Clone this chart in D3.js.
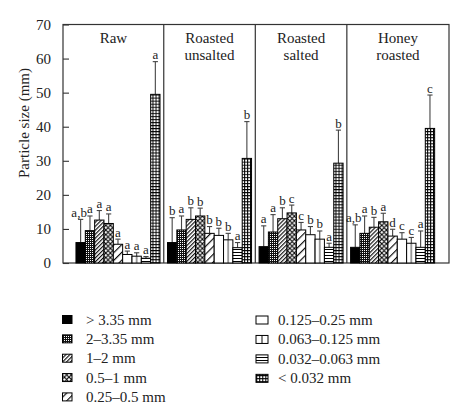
<!DOCTYPE html>
<html>
<head>
<meta charset="utf-8">
<script src="https://cdn.jsdelivr.net/npm/d3@7/dist/d3.min.js"></script>
<style>
  html, body { margin: 0; padding: 0; background: #fff; }
  svg { display: block; }
  text { font-family: "Liberation Serif", "DejaVu Serif", serif; fill: #222; }
</style>
</head>
<body>
<svg id="chart" width="470" height="417"></svg>
<script>
// ---------- data ----------
const groups = ["Raw", "Roasted unsalted", "Roasted salted", "Honey roasted"];
const sizeClasses = ["> 3.35 mm", "2\u20133.35 mm", "1\u20132 mm", "0.5\u20131 mm", "0.25\u20130.5 mm",
                     "0.125\u20130.25 mm", "0.063\u20130.125 mm", "0.032\u20130.063 mm", "< 0.032 mm"];
const yTicks = [0, 10, 20, 30, 40, 50, 60, 70];

const rawMean       = [6.0, 9.5, 12.6, 11.6, 5.5, 2.5, 2.0, 1.4, 49.5];
const rawSD         = [6.8, 4.3, 2.8, 2.8, 1.5, 1.0, 1.0, 0.5, 9.6];
const rawLetters    = ["a,b", "a", "a", "a", "a", "a", "a", "a", "a"];

const unsaltedMean    = [6.0, 9.7, 12.8, 13.8, 8.7, 8.1, 6.8, 4.5, 30.7];
const unsaltedSD      = [7.3, 4.1, 3.4, 2.3, 2.0, 2.1, 1.9, 1.5, 10.8];
const unsaltedLetters = ["b", "a", "b", "b", "b", "b", "b", "a", "b"];

const saltedMean    = [4.8, 9.1, 13.0, 14.7, 9.7, 8.3, 7.0, 4.6, 29.3];
const saltedSD      = [6.1, 5.1, 3.2, 2.3, 2.2, 2.4, 2.4, 1.2, 9.7];
const saltedLetters = ["a", "a", "b", "c", "c", "b", "b", "a", "b"];

const honeyMean    = [4.6, 8.7, 10.5, 12.1, 7.9, 7.0, 5.8, 4.6, 39.5];
const honeySD      = [6.6, 5.1, 2.9, 2.5, 2.0, 1.9, 1.7, 4.8, 9.8];
const honeyLetters = ["a,b", "a", "b", "a", "d", "c", "c", "a", "c"];

const means   = [rawMean, unsaltedMean, saltedMean, honeyMean];
const sds     = [rawSD, unsaltedSD, saltedSD, honeySD];
const letters = [rawLetters, unsaltedLetters, saltedLetters, honeyLetters];

// ---------- layout ----------
const frame = { left: 63, right: 449, top: 24.5, bottom: 263 };
const svg = d3.select("#chart");
const lineColor = "#333";

const y = d3.scaleLinear().domain([0, 70]).range([frame.bottom, frame.top]);
const x0 = d3.scaleBand().domain(groups).range([72.3, 438.3]).paddingInner(0.082).paddingOuter(0.04);
const x1 = d3.scaleBand().domain(sizeClasses).range([0, x0.bandwidth()]).padding(0);

// ---------- patterns ----------
const defs = svg.append("defs");
const pid = i => "pat" + i;

// 0 solid black
defs.append("pattern").attr("id", pid(0)).attr("patternUnits", "userSpaceOnUse")
  .attr("width", 4).attr("height", 4)
  .append("rect").attr("width", 4).attr("height", 4).attr("fill", "#000");
// 1 dense checker
{
  const p = defs.append("pattern").attr("id", pid(1)).attr("patternUnits", "userSpaceOnUse")
    .attr("width", 2).attr("height", 2);
  p.append("rect").attr("width", 2).attr("height", 2).attr("fill", "#111");
  p.append("rect").attr("width", 1).attr("height", 1).attr("fill", "#fff");
}
// 2 dense diagonal hatch
{
  const p = defs.append("pattern").attr("id", pid(2)).attr("patternUnits", "userSpaceOnUse")
    .attr("width", 2.8).attr("height", 2.8).attr("patternTransform", "rotate(45)");
  p.append("rect").attr("width", 2.8).attr("height", 2.8).attr("fill", "#fff");
  p.append("line").attr("x1", 0.6).attr("y1", 0).attr("x2", 0.6).attr("y2", 2.8)
    .attr("stroke", "#000").attr("stroke-width", 1.1);
}
// 3 diagonal crosshatch
{
  const s = 4.6;
  const p = defs.append("pattern").attr("id", pid(3)).attr("patternUnits", "userSpaceOnUse")
    .attr("width", s).attr("height", s);
  p.append("rect").attr("width", s).attr("height", s).attr("fill", "#fff");
  p.append("path").attr("d", `M0,0L${s},${s}M${s},0L0,${s}`)
    .attr("stroke", "#000").attr("stroke-width", 1.1);
}
// 4 wide diagonal
{
  const p = defs.append("pattern").attr("id", pid(4)).attr("patternUnits", "userSpaceOnUse")
    .attr("width", 5.5).attr("height", 5.5).attr("patternTransform", "rotate(45)");
  p.append("rect").attr("width", 5.5).attr("height", 5.5).attr("fill", "#fff");
  p.append("line").attr("x1", 0.6).attr("y1", 0).attr("x2", 0.6).attr("y2", 5.5)
    .attr("stroke", "#000").attr("stroke-width", 1.1);
}
// 5 white
defs.append("pattern").attr("id", pid(5)).attr("patternUnits", "userSpaceOnUse")
  .attr("width", 4).attr("height", 4)
  .append("rect").attr("width", 4).attr("height", 4).attr("fill", "#fff");
// 6 vertical middle line
{
  const p = defs.append("pattern").attr("id", pid(6)).attr("patternUnits", "objectBoundingBox")
    .attr("patternContentUnits", "objectBoundingBox").attr("width", 1).attr("height", 1);
  p.append("rect").attr("width", 1).attr("height", 1).attr("fill", "#fff");
  p.append("rect").attr("x", 0.46).attr("width", 0.08).attr("height", 1).attr("fill", "#000");
}
// 7 horizontal lines
{
  const p = defs.append("pattern").attr("id", pid(7)).attr("patternUnits", "userSpaceOnUse")
    .attr("width", 4).attr("height", 3);
  p.append("rect").attr("width", 4).attr("height", 3).attr("fill", "#fff");
  p.append("rect").attr("y", 0).attr("width", 4).attr("height", 1).attr("fill", "#000");
}
// 8 grid
{
  const p = defs.append("pattern").attr("id", pid(8)).attr("patternUnits", "userSpaceOnUse")
    .attr("width", 3.05).attr("height", 3.05);
  p.append("rect").attr("width", 3.05).attr("height", 3.05).attr("fill", "#fff");
  p.append("rect").attr("width", 3.05).attr("height", 1).attr("fill", "#000");
  p.append("rect").attr("width", 1).attr("height", 3.05).attr("fill", "#000");
}

// ---------- frame & axis ----------
svg.append("rect")
  .attr("x", frame.left).attr("y", frame.top)
  .attr("width", frame.right - frame.left).attr("height", frame.bottom - frame.top)
  .attr("fill", "none").attr("stroke", lineColor).attr("stroke-width", 1.2);

const yAxis = svg.append("g").attr("transform", `translate(${frame.left},0)`)
  .call(d3.axisLeft(y).tickValues(yTicks).tickSize(-6).tickPadding(12).tickFormat(d3.format("d")));
yAxis.select(".domain").remove();
yAxis.selectAll(".tick line").attr("stroke", lineColor).attr("stroke-width", 1.1);
yAxis.selectAll(".tick text").style("font-family", '"Liberation Serif", serif')
  .style("font-size", "15px").attr("fill", "#222");

svg.append("text")
  .attr("transform", `translate(29,123) rotate(-90)`)
  .attr("text-anchor", "middle").style("font-size", "15px")
  .text("Particle size (mm)");

// panel dividers
const dividers = groups.slice(1).map((g, i) => (x0(groups[i]) + x0.bandwidth() + x0(g)) / 2);
svg.selectAll("line.divider").data(dividers).enter().append("line")
  .attr("class", "divider")
  .attr("x1", d => d).attr("x2", d => d)
  .attr("y1", frame.top).attr("y2", frame.bottom)
  .attr("stroke", lineColor).attr("stroke-width", 1.2);

const edges = [frame.left, ...dividers, frame.right];

// panel titles
groups.forEach((g, gi) => {
  const cx = (edges[gi] + edges[gi + 1]) / 2;
  const lines = g.split(" ");
  const t = svg.append("text").attr("text-anchor", "middle").style("font-size", "15px");
  lines.forEach((ln, li) => {
    t.append("tspan").attr("x", cx).attr("y", 43 + li * 16.5).text(ln);
  });
});

// ---------- bars ----------
const barData = [];
groups.forEach((g, gi) => {
  sizeClasses.forEach((s, si) => {
    barData.push({ g, s, si, mean: means[gi][si], sd: sds[gi][si], letter: letters[gi][si] });
  });
});

const barG = svg.append("g");
const bw = x1.bandwidth();

barG.selectAll("line.err").data(barData).enter().append("line")
  .attr("x1", d => x0(d.g) + x1(d.s) + bw / 2)
  .attr("x2", d => x0(d.g) + x1(d.s) + bw / 2)
  .attr("y1", d => y(d.mean)).attr("y2", d => y(d.mean + d.sd))
  .attr("stroke", "#444").attr("stroke-width", 1.1);
barG.selectAll("line.cap").data(barData).enter().append("line")
  .attr("x1", d => x0(d.g) + x1(d.s) + bw / 2 - 2.6)
  .attr("x2", d => x0(d.g) + x1(d.s) + bw / 2 + 2.6)
  .attr("y1", d => y(d.mean + d.sd)).attr("y2", d => y(d.mean + d.sd))
  .attr("stroke", "#444").attr("stroke-width", 1.1);

barG.selectAll("rect.bar").data(barData).enter().append("rect")
  .attr("x", d => x0(d.g) + x1(d.s))
  .attr("y", d => y(d.mean))
  .attr("width", bw)
  .attr("height", d => y(0) - y(d.mean))
  .attr("fill", d => `url(#${pid(d.si)})`)
  .attr("stroke", "#000").attr("stroke-width", 1);

barG.selectAll("text.letter").data(barData).enter().append("text")
  .attr("x", d => x0(d.g) + x1(d.s) + bw / 2 - (d.letter.length > 1 ? 1.5 : 0))
  .attr("y", d => y(d.mean + d.sd) - 2.5)
  .attr("text-anchor", "middle").style("font-size", "13px")
  .text(d => d.letter);

// ---------- legend ----------
const legend = svg.append("g");
const leftCol = sizeClasses.slice(0, 5), rightCol = sizeClasses.slice(5);
const legendItem = (label, idx, sx, tx, cy, w) => {
  legend.append("rect").attr("x", sx).attr("y", cy - 4).attr("width", w).attr("height", 8)
    .attr("fill", `url(#${pid(idx)})`).attr("stroke", "#000").attr("stroke-width", 1);
  legend.append("text").attr("x", tx).attr("y", cy + 5).style("font-size", "15px").text(label);
};
leftCol.forEach((s, i) => legendItem(s, i, 62.5, 86, 319.5 + i * 19.35, 9.5));
rightCol.forEach((s, i) => legendItem(s, i + 5, 256, 278, 320 + i * 19.45, 12));
</script>
</body>
</html>
